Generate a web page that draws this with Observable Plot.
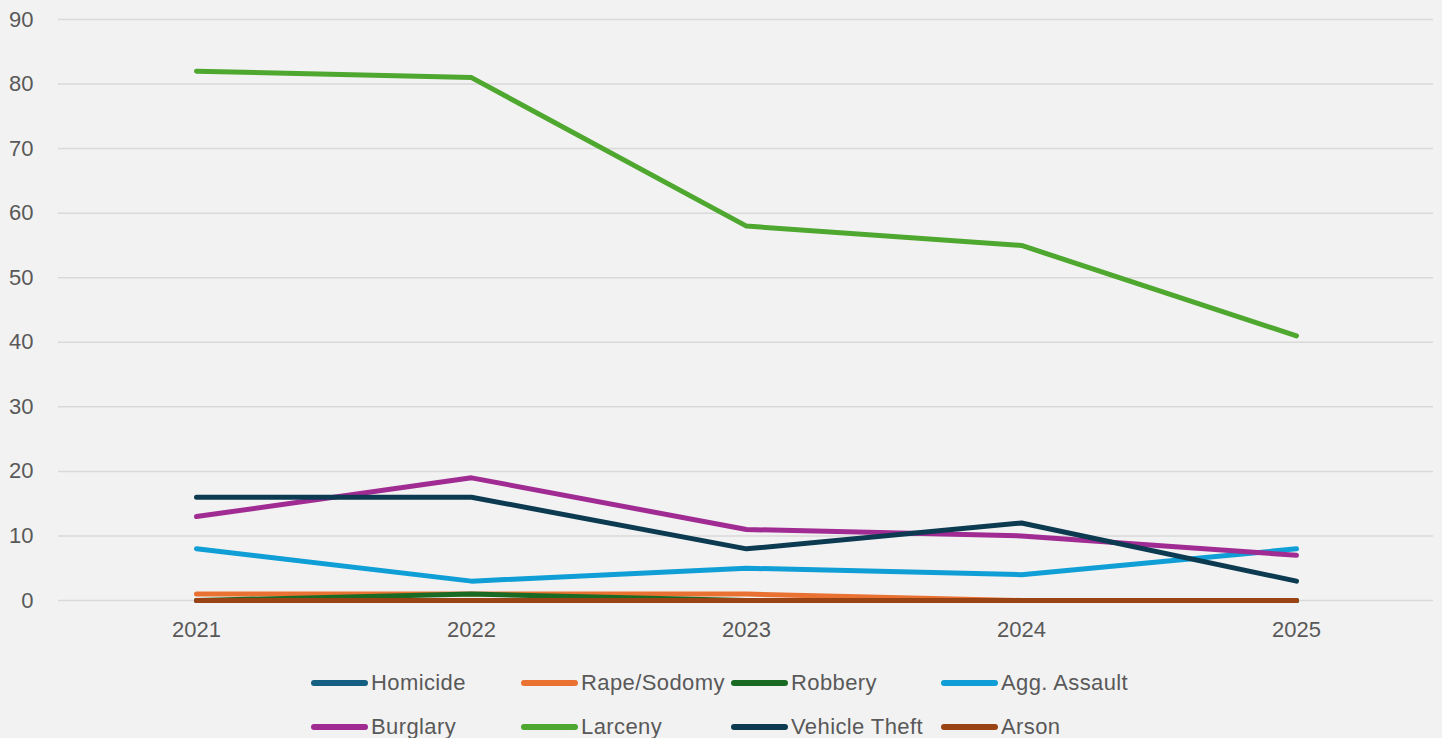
<!DOCTYPE html>
<html>
<head>
<meta charset="utf-8">
<script src="https://cdn.jsdelivr.net/npm/d3@7"></script>
<script src="https://cdn.jsdelivr.net/npm/@observablehq/plot@0.6"></script>
<style>
  html, body { margin: 0; padding: 0; background: #f2f2f2; }
  #chart svg { display: block; }
  #legend { position: relative; width: 1442px; height: 83px; font-family: "Liberation Sans", Arial, sans-serif; font-size: 22px; color: #595959; letter-spacing: 0.4px; }
  .item { position: absolute; display: flex; align-items: center; height: 30px; white-space: nowrap; }
  .sw { width: 57px; height: 6px; border-radius: 3px; margin-right: 3px; }
</style>
</head>
<body>
<div id="chart"></div>
<div id="legend"></div>
<script>
const years = ["2021", "2022", "2023", "2024", "2025"];
const seriesNames = ["Homicide", "Rape/Sodomy", "Robbery", "Agg. Assault", "Burglary", "Larceny", "Vehicle Theft", "Arson"];
const homicide    = [0, 0, 0, 0, 0];
const rapeSodomy  = [1, 1, 1, 0, 0];
const robbery     = [0, 1, 0, 0, 0];
const aggAssault  = [8, 3, 5, 4, 8];
const burglary    = [13, 19, 11, 10, 7];
const larceny     = [82, 81, 58, 55, 41];
const vehicleTheft = [16, 16, 8, 12, 3];
const arson       = [0, 0, 0, 0, 0];
const seriesColors = ["#156082", "#E97132", "#196B24", "#0F9ED5", "#A02B93", "#4EA72E", "#0C3A50", "#9A4314"];
const yTicks = [0, 10, 20, 30, 40, 50, 60, 70, 80, 90];

const seriesValues = [homicide, rapeSodomy, robbery, aggAssault, burglary, larceny, vehicleTheft, arson];
const data = seriesNames.flatMap((name, i) =>
  years.map((year, j) => ({ series: name, year, value: seriesValues[i][j] }))
);

const chart = Plot.plot({
  width: 1442,
  height: 655,
  marginLeft: 58,
  marginRight: 9,
  marginTop: 19,
  marginBottom: 55,
  style: { background: "#f2f2f2", fontFamily: "'Liberation Sans', Arial, sans-serif", fontSize: "22px", color: "#595959" },
  x: { type: "point", domain: years, padding: 0.5, label: null },
  y: { domain: [0, 90], label: null },
  color: { domain: seriesNames, range: seriesColors },
  marks: [
    Plot.gridY(yTicks, { stroke: "#d9d9d9", strokeOpacity: 1, strokeWidth: 1.5 }),
    Plot.axisY(yTicks, { tickSize: 0, tickPadding: 25, label: null, fontSize: 22 }),
    Plot.axisX({ tickSize: 0, tickPadding: 21, label: null, fontSize: 22 }),
    Plot.line(data, { x: "year", y: "value", z: "series", stroke: "series", strokeWidth: 5, strokeLinecap: "round", strokeLinejoin: "round" })
  ]
});
document.getElementById("chart").appendChild(chart);

const legend = document.getElementById("legend");
seriesNames.forEach((name, i) => {
  const row = Math.floor(i / 4), col = i % 4;
  const item = document.createElement("div");
  item.className = "item";
  item.style.left = (311 + col * 210) + "px";
  item.style.top = (13 + row * 44) + "px";
  const sw = document.createElement("span");
  sw.className = "sw";
  sw.style.background = seriesColors[i];
  const label = document.createElement("span");
  label.textContent = name;
  item.appendChild(sw);
  item.appendChild(label);
  legend.appendChild(item);
});
</script>
</body>
</html>
